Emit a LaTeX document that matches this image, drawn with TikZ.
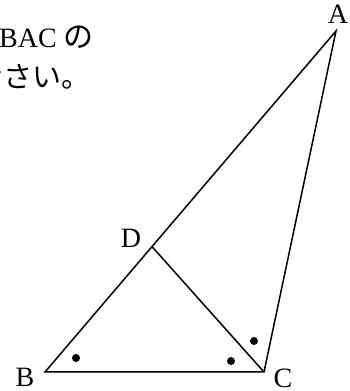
\documentclass[tikz,border=0pt]{standalone}
\usepackage{fontspec}
\usetikzlibrary{calc}
\setmainfont{Liberation Serif}
\newfontfamily\jp{Noto Sans CJK JP}
\begin{document}
\begin{tikzpicture}[x=1pt,y=1pt,
  edge/.style={line width=1.5pt},
  lbl/.style={font=\fontsize{28}{32}\selectfont, inner sep=0pt},
  dot/.style={fill=black, circle, inner sep=0pt, minimum size=8pt}]
\useasboundingbox (0,0) rectangle (349,391);
\coordinate (B) at (45,19);
\coordinate (C) at (264,19);
\coordinate (A) at (336,360);
\coordinate (D) at ($(B)!0.3677!(A)$);
\draw[edge, line join=miter] (B) -- (C) -- (A) -- cycle;
\draw[edge] (D) -- (C);
\node[lbl] (lA) at (338,377) {A};
\node[lbl] (lB) at (25,14) {B};
\node[lbl] (lC) at (283,13) {C};
\node[lbl] (lD) at (131,153) {D};
\node[dot] (d1) at (76,33) {};
\node[dot] (d2) at (231,30) {};
\node[dot] (d3) at (254,50) {};
\node[lbl, anchor=base west] (t1) at (-1,343) {BAC\hspace{7pt}{\jp\fontsize{30}{32}\selectfont の}};
\node[lbl, anchor=base west, font=\fontsize{29}{32}\selectfont\jp] (t2) at (-26,303) {なさい。};
\end{tikzpicture}
\end{document}
